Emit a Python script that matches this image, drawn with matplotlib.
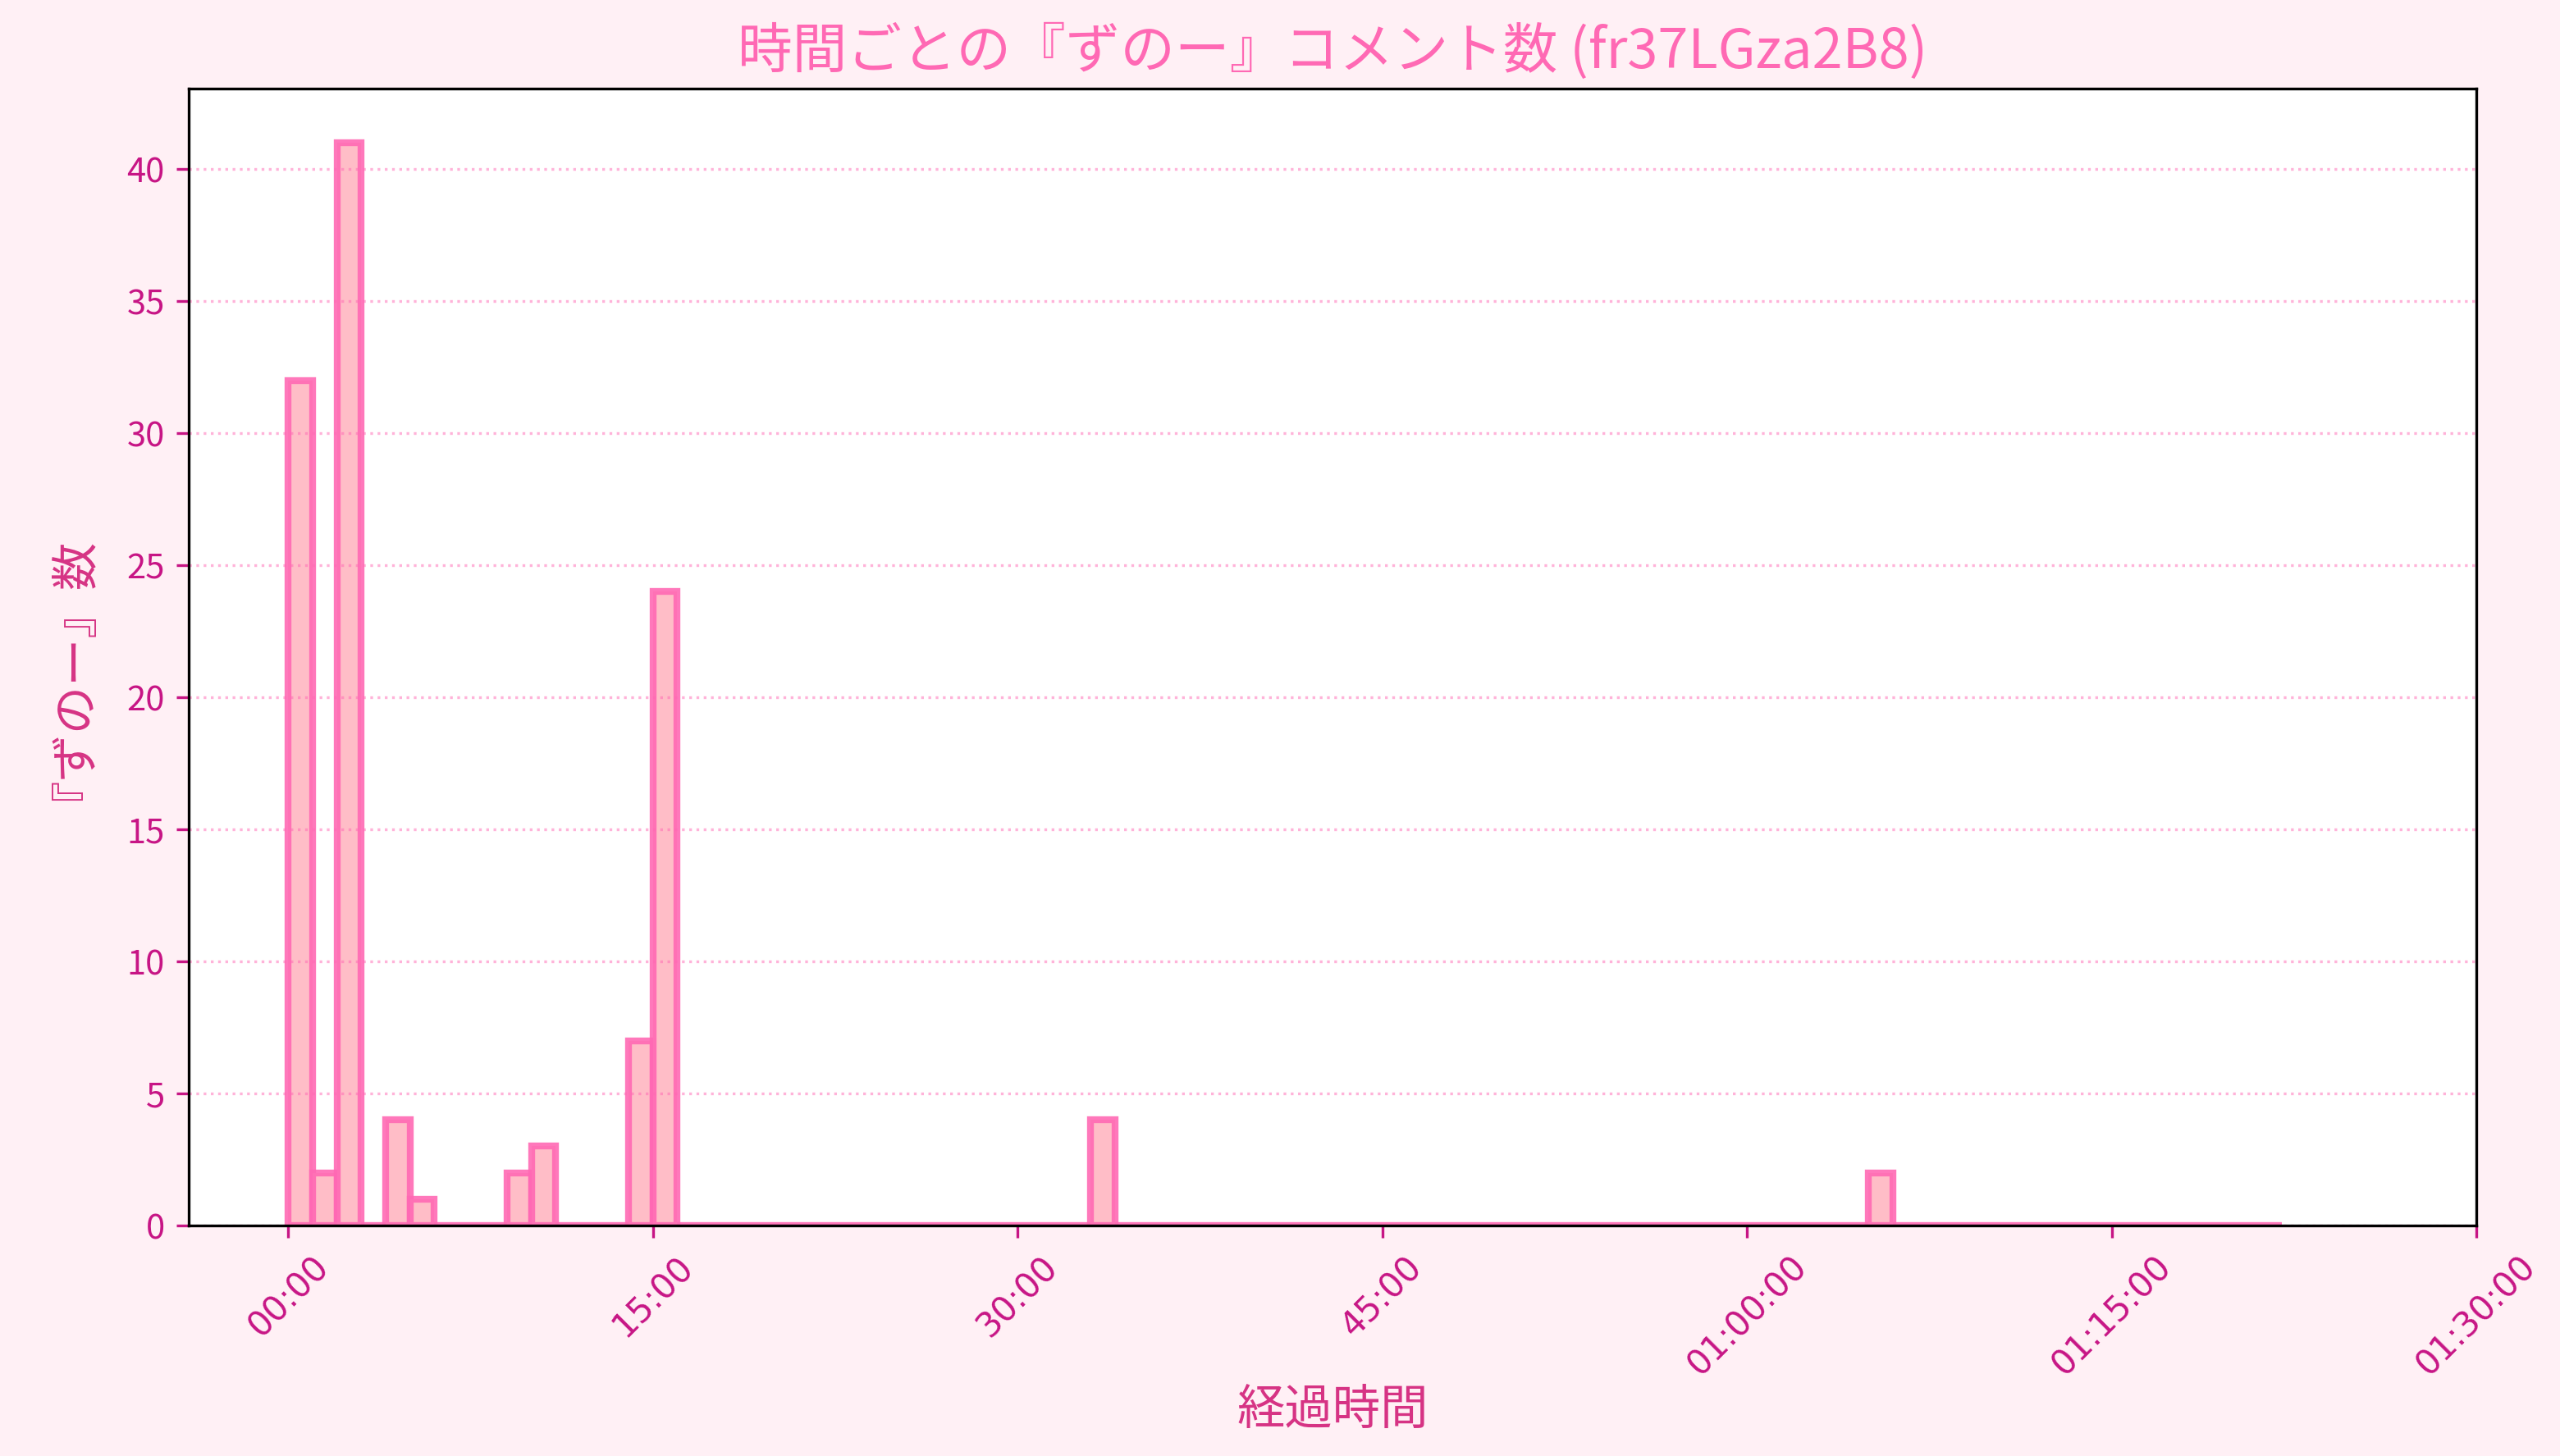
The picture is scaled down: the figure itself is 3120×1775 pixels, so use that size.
import numpy as np
import matplotlib
matplotlib.use('Agg')
import matplotlib.pyplot as plt
from matplotlib.ticker import FuncFormatter

plt.rcParams['font.family'] = ['Noto Sans CJK JP', 'DejaVu Sans']

# comments per minute (bin start minute -> count), video fr37LGza2B8
minutes = np.arange(0, 82)
counts = np.zeros(82, dtype=int)
hit_minutes = [0, 1, 2, 4, 5, 9, 10, 14, 15, 33, 65]
hit_counts = [32, 2, 41, 4, 1, 2, 3, 7, 24, 4, 2]
counts[hit_minutes] = hit_counts

bin_edges = np.arange(0, 83) * 60  # seconds
tick_secs = np.arange(0, 5401, 900)

title = '時間ごとの『ずのー』コメント数 (fr37LGza2B8)'
xlabel = '経過時間'
ylabel = '『ずのー』数'


def fmt_time(x, pos=None):
    s = int(round(x))
    h, rem = divmod(s, 3600)
    m, sec = divmod(rem, 60)
    if h > 0:
        return '%02d:%02d:%02d' % (h, m, sec)
    return '%02d:%02d' % (m, sec)


fig = plt.figure(figsize=(10.4, 5.9167), dpi=300, facecolor='#fff0f5')
ax = fig.add_subplot(111)
fig.subplots_adjust(left=0.0737, right=0.9673, top=0.939, bottom=0.1583)
ax.set_facecolor('white')

ax.hist(bin_edges[:-1], bins=bin_edges, weights=counts,
        facecolor='#ffb6c1', edgecolor='#ff69b4', linewidth=2, alpha=0.9)

ax.set_xticks(tick_secs)
ax.xaxis.set_major_formatter(FuncFormatter(fmt_time))
for lab in ax.get_xticklabels():
    lab.set_rotation(45)
    lab.set_fontfamily('DejaVu Sans')

ax.tick_params(colors='#c71585', labelsize=10)
ax.grid(axis='y', linestyle=':', color='#ff69b4', alpha=0.5)

ax.set_title(title, fontsize=16, color='#ff69b4')
ax.set_xlabel(xlabel, fontsize=14, color='#d63384', labelpad=0.8)
ax.set_ylabel(ylabel, fontsize=14, color='#d63384', labelpad=15)

fig.savefig('out.png', dpi=300, facecolor=fig.get_facecolor())
